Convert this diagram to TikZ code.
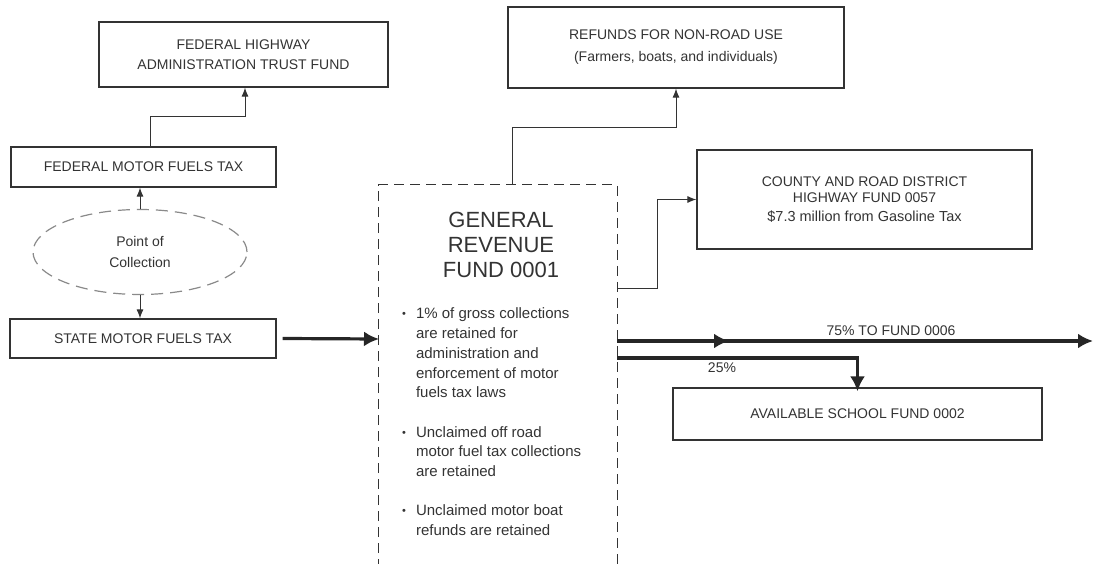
\documentclass[tikz,border=0pt]{standalone}
\usepackage{fontspec}
\setmainfont{Liberation Sans}
\usetikzlibrary{arrows.meta,shapes.geometric}
\definecolor{linec}{HTML}{333333}
\definecolor{textc}{HTML}{333333}
\definecolor{ellc}{HTML}{8A8A8A}
\newcommand{\bul}{\raisebox{1pt}{\fontsize{11}{11}\selectfont\textbullet}}
\begin{document}
\begin{tikzpicture}[x=1pt,y=-1pt,
  box/.style={draw=linec, line width=1.2pt, rectangle, inner sep=0pt, align=center,
    text=textc, font=\fontsize{14}{16}\selectfont},
  arr/.style={draw=linec, line width=1pt, -{Latex[length=9pt,width=7pt]}},
  bigarr/.style={draw=black!85, line width=3.2pt, -{Latex[length=15pt,width=15pt]}},
  lbl/.style={text=textc, font=\fontsize{14}{16}\selectfont, inner sep=0pt}
]
\useasboundingbox (0,0) rectangle (1093,564);

% nodes
\node[box, minimum width=289, minimum height=65] (fhw) at (243.5,54.5)
  {FEDERAL HIGHWAY\\[4pt]ADMINISTRATION TRUST FUND};
\node[box, minimum width=265, minimum height=40] (fmt) at (143.5,167)
  {FEDERAL MOTOR FUELS TAX};
\node[ellipse, draw=ellc, line width=1.2pt, dash pattern=on 12pt off 7pt,
  minimum width=214, minimum height=85, inner sep=0pt, align=center, text=textc,
  font=\fontsize{14}{21}\selectfont] (poc) at (140,252) {Point of\\Collection};
\node[box, minimum width=266, minimum height=39] (smt) at (143,338.5)
  {STATE MOTOR FUELS TAX};
\node[box, minimum width=336, minimum height=81] (ref) at (676,47.5)
  {REFUNDS FOR NON-ROAD USE\\[6pt](Farmers, boats, and individuals)};
\node[box, minimum width=335, minimum height=99] (cty) at (864.5,199.5)
  {COUNTY AND ROAD DISTRICT\\HIGHWAY FUND 0057\\[3pt]{\fontsize{14.5}{16}\selectfont \$7.3 million from Gasoline Tax}};
\node[box, minimum width=369, minimum height=52] (asf) at (857.5,414)
  {AVAILABLE SCHOOL FUND 0002};

% general revenue fund (open at the bottom)
\node[minimum width=238, minimum height=400, inner sep=0pt] (grf) at (498,385) {};
\draw[draw=linec, line width=1.2pt, dash pattern=on 10pt off 6pt]
  (grf.south west) -- (grf.north west) -- (grf.north east) -- (grf.south east);
\node[text=textc, align=center, inner sep=0pt, font=\fontsize{22}{25}\selectfont]
  (grft) at (501,245) {GENERAL\\REVENUE\\FUND 0001};
\node[text=textc, anchor=north west, inner sep=0pt, align=left,
  font=\fontsize{15}{19.7}\selectfont] (bul) at (402,305)
  {\begin{tabular}{@{}l@{\hspace{10pt}}l@{}}
   \bul & 1\% of gross collections\\
   & are retained for\\
   & administration and\\
   & enforcement of motor\\
   & fuels tax laws\\[19.7pt]
   \bul & Unclaimed off road\\
   & motor fuel tax collections\\
   & are retained\\[19.7pt]
   \bul & Unclaimed motor boat\\
   & refunds are retained
   \end{tabular}};

% coordinates
\coordinate (grfin) at (379,339);
\coordinate (midtip) at (729,341);
\coordinate (rend) at (1093,341);

% connectors
\draw[arr] ([xshift=6.5pt]fmt.north) -- ++(0,-30) -| ([xshift=1.5pt]fhw.south);
\draw[arr] (poc.north) -- (poc.north |- fmt.south);
\draw[arr] (poc.south) -- (poc.south |- smt.north);
\draw[bigarr] ([xshift=6pt]smt.east) -- (grfin);
\draw[arr] ([xshift=14pt]grf.north) -- ++(0,-57) -| (ref.south);
\draw[arr] (grf.east |- 0,289) -- (657,289) |- (cty.west);
\draw[bigarr] (grf.east |- midtip) -- (rend);
\draw[bigarr] (grf.east |- midtip) -- (midtip);
\draw[bigarr] (grf.east |- 0,358) -| ([yshift=-4pt]asf.north);

% labels
\node[lbl] (l75) at (891,331) {75\% TO FUND 0006};
\node[lbl] (l25) at (722,368) {25\%};
\end{tikzpicture}
\end{document}
